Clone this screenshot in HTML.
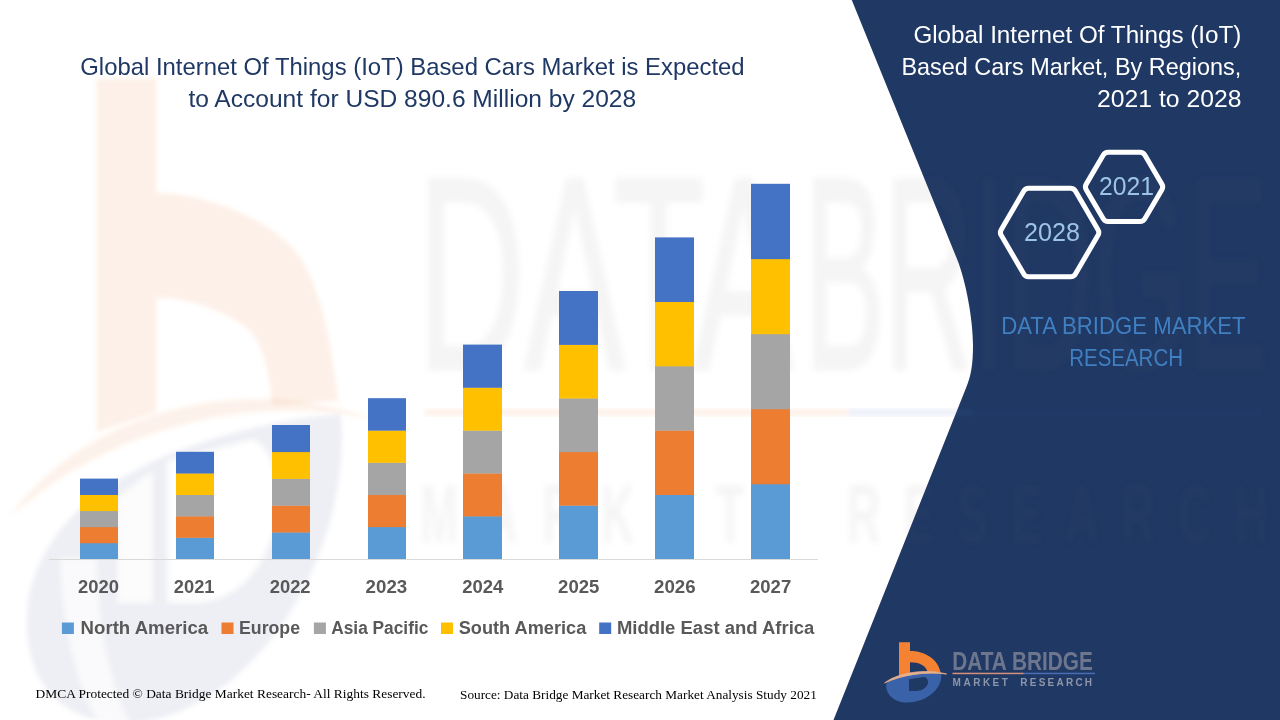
<!DOCTYPE html>
<html lang="en">
<head>
<meta charset="utf-8">
<title>Global Internet Of Things (IoT) Based Cars Market</title>
<style>
html,body{margin:0;padding:0;background:#fff;}
body{width:1280px;height:720px;overflow:hidden;position:relative;font-family:"Liberation Sans",sans-serif;}
svg{position:absolute;left:0;top:0;display:block;}
.t{font-family:"Liberation Sans",sans-serif;}
.s{font-family:"Liberation Serif",serif;}
</style>
</head>
<body>
<svg width="1280" height="720" viewBox="0 0 1280 720">
<defs>
<filter id="blur2" x="-5%" y="-5%" width="110%" height="110%"><feGaussianBlur stdDeviation="2"/></filter>
<filter id="blur3" x="-5%" y="-5%" width="110%" height="110%"><feGaussianBlur stdDeviation="3"/></filter>
</defs>
<rect width="1280" height="720" fill="#ffffff"/>

<!-- watermark -->
<g id="wm" filter="url(#blur2)">
<g>
<path d="M28,602 C40,522 120,447 310,417 L341,414 C352,560 250,716 130,723 C60,724 20,682 28,602 Z" fill="#5F6F9E" fill-opacity="0.105"/>
<path d="M169,462 L252,441 C294,456 286,592 200,601 L169,601 Z" fill="#ffffff"/>
<path d="M119,498 L151,474 L151,601 L119,601 Z" fill="#ffffff" fill-opacity="0.85"/>
<path d="M62,560 C64,620 76,680 100,722 L128,722 C106,680 96,620 95,560 Z" fill="#ffffff" fill-opacity="0.7"/>
<path d="M96.7,78.75 H156.3 V193 C200,193 262,215 292,247.5 C315,272 330,325 338,401 L272,405 C270,375 263,345 250,331 C228,310 185,297.5 156.3,297.5 V412 L96.7,432 Z" fill="#ED7D31" fill-opacity="0.115"/>
<path d="M10,517 C80,415 240,368 376,420 C250,392 110,428 10,517 Z" fill="#ED7D31" fill-opacity="0.10"/>
</g>
</g>

<!-- right panel -->
<path id="panel" d="M851.75,0 L957,259 C966,281 973,320 973,345 C973,365 971,376 966,388 L833.5,720 L1280,720 L1280,0 Z" fill="#1F3864"/>
<g id="wm2">
<g class="t" fill="#6D6D6D" stroke="#6D6D6D" opacity="0.068" filter="url(#blur3)">
<text x="417" y="368.5" font-size="274" textLength="376" lengthAdjust="spacingAndGlyphs" stroke-width="4">DATA</text>
<text x="804" y="368.5" font-size="274" textLength="464" lengthAdjust="spacingAndGlyphs" stroke-width="4">BRIDGE</text>
<text transform="translate(420,543) scale(0.55,1)" font-size="84" font-weight="bold" letter-spacing="46" stroke="none">MARKET</text>
<text transform="translate(847,543) scale(0.55,1)" font-size="84" font-weight="bold" letter-spacing="42" stroke="none">RESEARCH</text>
</g>
<g filter="url(#blur2)">
<rect x="425" y="408.5" width="423" height="8" fill="#ED7D31" fill-opacity="0.10"/>
<rect x="848" y="408.5" width="125" height="8" fill="#4472C4" fill-opacity="0.10"/>
<rect x="973" y="408.5" width="289" height="8" fill="#4472C4" fill-opacity="0.04"/>
</g>
</g>

<!-- chart -->
<line x1="49" y1="559.5" x2="818" y2="559.5" stroke="#D9D9D9" stroke-width="1"/>
<g>
<rect x="80" y="542.92" width="38" height="16.08" fill="#5B9BD5"/>
<rect x="80" y="526.84" width="38" height="16.38" fill="#ED7D31"/>
<rect x="80" y="510.76" width="38" height="16.38" fill="#A5A5A5"/>
<rect x="80" y="494.68" width="38" height="16.38" fill="#FFC000"/>
<rect x="80" y="478.60" width="38" height="16.38" fill="#4472C4"/>
<rect x="176" y="537.56" width="38" height="21.44" fill="#5B9BD5"/>
<rect x="176" y="516.12" width="38" height="21.74" fill="#ED7D31"/>
<rect x="176" y="494.68" width="38" height="21.74" fill="#A5A5A5"/>
<rect x="176" y="473.24" width="38" height="21.74" fill="#FFC000"/>
<rect x="176" y="451.80" width="38" height="21.74" fill="#4472C4"/>
<rect x="272" y="532.20" width="38" height="26.80" fill="#5B9BD5"/>
<rect x="272" y="505.40" width="38" height="27.10" fill="#ED7D31"/>
<rect x="272" y="478.60" width="38" height="27.10" fill="#A5A5A5"/>
<rect x="272" y="451.80" width="38" height="27.10" fill="#FFC000"/>
<rect x="272" y="425.00" width="38" height="27.10" fill="#4472C4"/>
<rect x="368" y="526.84" width="38" height="32.16" fill="#5B9BD5"/>
<rect x="368" y="494.68" width="38" height="32.46" fill="#ED7D31"/>
<rect x="368" y="462.52" width="38" height="32.46" fill="#A5A5A5"/>
<rect x="368" y="430.36" width="38" height="32.46" fill="#FFC000"/>
<rect x="368" y="398.20" width="38" height="32.46" fill="#4472C4"/>
<rect x="463" y="516.12" width="39" height="42.88" fill="#5B9BD5"/>
<rect x="463" y="473.24" width="39" height="43.18" fill="#ED7D31"/>
<rect x="463" y="430.36" width="39" height="43.18" fill="#A5A5A5"/>
<rect x="463" y="387.48" width="39" height="43.18" fill="#FFC000"/>
<rect x="463" y="344.60" width="39" height="43.18" fill="#4472C4"/>
<rect x="559" y="505.40" width="39" height="53.60" fill="#5B9BD5"/>
<rect x="559" y="451.80" width="39" height="53.90" fill="#ED7D31"/>
<rect x="559" y="398.20" width="39" height="53.90" fill="#A5A5A5"/>
<rect x="559" y="344.60" width="39" height="53.90" fill="#FFC000"/>
<rect x="559" y="291.00" width="39" height="53.90" fill="#4472C4"/>
<rect x="655" y="494.68" width="39" height="64.32" fill="#5B9BD5"/>
<rect x="655" y="430.36" width="39" height="64.62" fill="#ED7D31"/>
<rect x="655" y="366.04" width="39" height="64.62" fill="#A5A5A5"/>
<rect x="655" y="301.72" width="39" height="64.62" fill="#FFC000"/>
<rect x="655" y="237.40" width="39" height="64.62" fill="#4472C4"/>
<rect x="751" y="483.96" width="39" height="75.04" fill="#5B9BD5"/>
<rect x="751" y="408.92" width="39" height="75.34" fill="#ED7D31"/>
<rect x="751" y="333.88" width="39" height="75.34" fill="#A5A5A5"/>
<rect x="751" y="258.84" width="39" height="75.34" fill="#FFC000"/>
<rect x="751" y="183.80" width="39" height="75.34" fill="#4472C4"/>
</g>
<g class="t" font-size="17.6" font-weight="bold" fill="#595959">
<text x="78.1" y="593.2" textLength="40.9" lengthAdjust="spacingAndGlyphs">2020</text>
<text x="173.8" y="593.2" textLength="40.7" lengthAdjust="spacingAndGlyphs">2021</text>
<text x="269.7" y="593.2" textLength="40.9" lengthAdjust="spacingAndGlyphs">2022</text>
<text x="365.6" y="593.2" textLength="41.6" lengthAdjust="spacingAndGlyphs">2023</text>
<text x="462.2" y="593.2" textLength="41.2" lengthAdjust="spacingAndGlyphs">2024</text>
<text x="558.1" y="593.2" textLength="41.3" lengthAdjust="spacingAndGlyphs">2025</text>
<text x="654.0" y="593.2" textLength="41.6" lengthAdjust="spacingAndGlyphs">2026</text>
<text x="750.0" y="593.2" textLength="41.2" lengthAdjust="spacingAndGlyphs">2027</text>
</g>
<g class="t" font-size="17.6" font-weight="bold" fill="#595959">
<rect x="61.9" y="622.5" width="12" height="11.5" fill="#5B9BD5"/>
<text x="80.6" y="633.8" textLength="127.5" lengthAdjust="spacingAndGlyphs">North America</text>
<rect x="221.5" y="622.5" width="12" height="11.5" fill="#ED7D31"/>
<text x="239" y="633.8" textLength="61.0" lengthAdjust="spacingAndGlyphs">Europe</text>
<rect x="313.9" y="622.5" width="12" height="11.5" fill="#A5A5A5"/>
<text x="331.25" y="633.8" textLength="97.1" lengthAdjust="spacingAndGlyphs">Asia Pacific</text>
<rect x="441" y="622.5" width="12" height="11.5" fill="#FFC000"/>
<text x="458.75" y="633.8" textLength="127.5" lengthAdjust="spacingAndGlyphs">South America</text>
<rect x="599.2" y="622.5" width="12" height="11.5" fill="#4472C4"/>
<text x="616.9" y="633.8" textLength="197.5" lengthAdjust="spacingAndGlyphs">Middle East and Africa</text>
</g>

<!-- titles -->
<g class="t" font-size="24.4" fill="#1F3864">
<text x="80.3" y="74.8" textLength="664.3" lengthAdjust="spacingAndGlyphs">Global Internet Of Things (IoT) Based Cars Market is Expected</text>
<text x="188.4" y="106.9" textLength="447.8" lengthAdjust="spacingAndGlyphs">to Account for USD 890.6 Million by 2028</text>
</g>

<!-- footer -->
<g class="s" font-size="13.33" fill="#000">
<text x="35.6" y="697.9" textLength="390" lengthAdjust="spacingAndGlyphs">DMCA Protected © Data Bridge Market Research- All Rights Reserved.</text>
<text x="460" y="698.5" textLength="356.8" lengthAdjust="spacingAndGlyphs">Source: Data Bridge Market Research Market Analysis Study 2021</text>
</g>


<g class="t" font-size="24.4" fill="#ffffff">
<text x="913.4" y="43.0" textLength="328" lengthAdjust="spacingAndGlyphs">Global Internet Of Things (IoT)</text>
<text x="901.4" y="75.0" textLength="339.8" lengthAdjust="spacingAndGlyphs">Based Cars Market, By Regions,</text>
<text x="1097" y="107.0" textLength="144.4" lengthAdjust="spacingAndGlyphs">2021 to 2028</text>
</g>

<!-- hexagons -->
<g fill="none" stroke="#ffffff" stroke-width="5" stroke-linejoin="round">
<path d="M1001.21,235.26 Q999.60,232.50 1001.21,229.74 L1023.79,191.06 Q1025.40,188.30 1028.60,188.30 L1070.60,188.30 Q1073.80,188.30 1075.41,191.06 L1097.99,229.74 Q1099.60,232.50 1097.99,235.26 L1075.41,273.94 Q1073.80,276.70 1070.60,276.70 L1028.60,276.70 Q1025.40,276.70 1023.79,273.94 Z"/>
<path d="M1086.22,189.66 Q1084.60,186.90 1086.22,184.14 L1103.28,155.06 Q1104.90,152.30 1108.10,152.30 L1140.00,152.30 Q1143.20,152.30 1144.82,155.06 L1161.88,184.14 Q1163.50,186.90 1161.88,189.66 L1144.82,218.74 Q1143.20,221.50 1140.00,221.50 L1108.10,221.50 Q1104.90,221.50 1103.28,218.74 Z"/>
</g>
<g class="t" font-size="25.2" fill="#9DC3E6">
<text x="1024" y="241.2" textLength="56" lengthAdjust="spacingAndGlyphs">2028</text>
<text x="1099" y="195" textLength="55" lengthAdjust="spacingAndGlyphs">2021</text>
</g>

<g class="t" font-size="24.4" fill="#3F7FC2">
<text x="1001.2" y="334.1" textLength="244.4" lengthAdjust="spacingAndGlyphs">DATA BRIDGE MARKET</text>
<text x="1069.2" y="366.3" textLength="113.8" lengthAdjust="spacingAndGlyphs">RESEARCH</text>
</g>

<!-- logo -->
<g id="logo">
<g id="mark">
<path d="M886.3,684 C889,678 903,675 920,673.2 L941.2,673.6 C943,688 927,703 906,702.6 C893,702.3 885,693 886.3,684 Z" fill="#3A62A8"/>
<path d="M909,679.2 L924,677 C931,678.5 929,690.5 916,691 L909,691 Z" fill="#1F3864"/>
<path d="M899,642.2 L910,642.2 L910,651 C925,651 938,659 940.6,672.4 L927.6,672 C926,665.5 919,662.3 910,662.3 L910,673.6 L899,676 Z" fill="#F58233"/>
<path d="M884.5,683 C898,672.5 925,668.5 946.5,674 C925,671.5 903,674.5 884.5,683 Z" fill="#E9B08E" stroke="#E9B08E" stroke-width="0.8"/>
</g>
<g class="t" fill="#6E768E">
<text x="952.2" y="670" font-size="26.6" font-weight="bold" textLength="140.6" lengthAdjust="spacingAndGlyphs">DATA BRIDGE</text>
<text x="952.6" y="686.3" font-size="10" font-weight="bold" textLength="55.3" lengthAdjust="spacing" fill="#8E95A8">MARKET</text>
<text x="1020.3" y="686.3" font-size="10" font-weight="bold" textLength="71.8" lengthAdjust="spacing" fill="#8E95A8">RESEARCH</text>
</g>
<rect x="952.5" y="672.7" width="71.3" height="1.5" fill="#D8907A"/>
<rect x="1023.8" y="672.7" width="71.2" height="1.5" fill="#4A6DB5"/>
</g>
</svg>
</body>
</html>
